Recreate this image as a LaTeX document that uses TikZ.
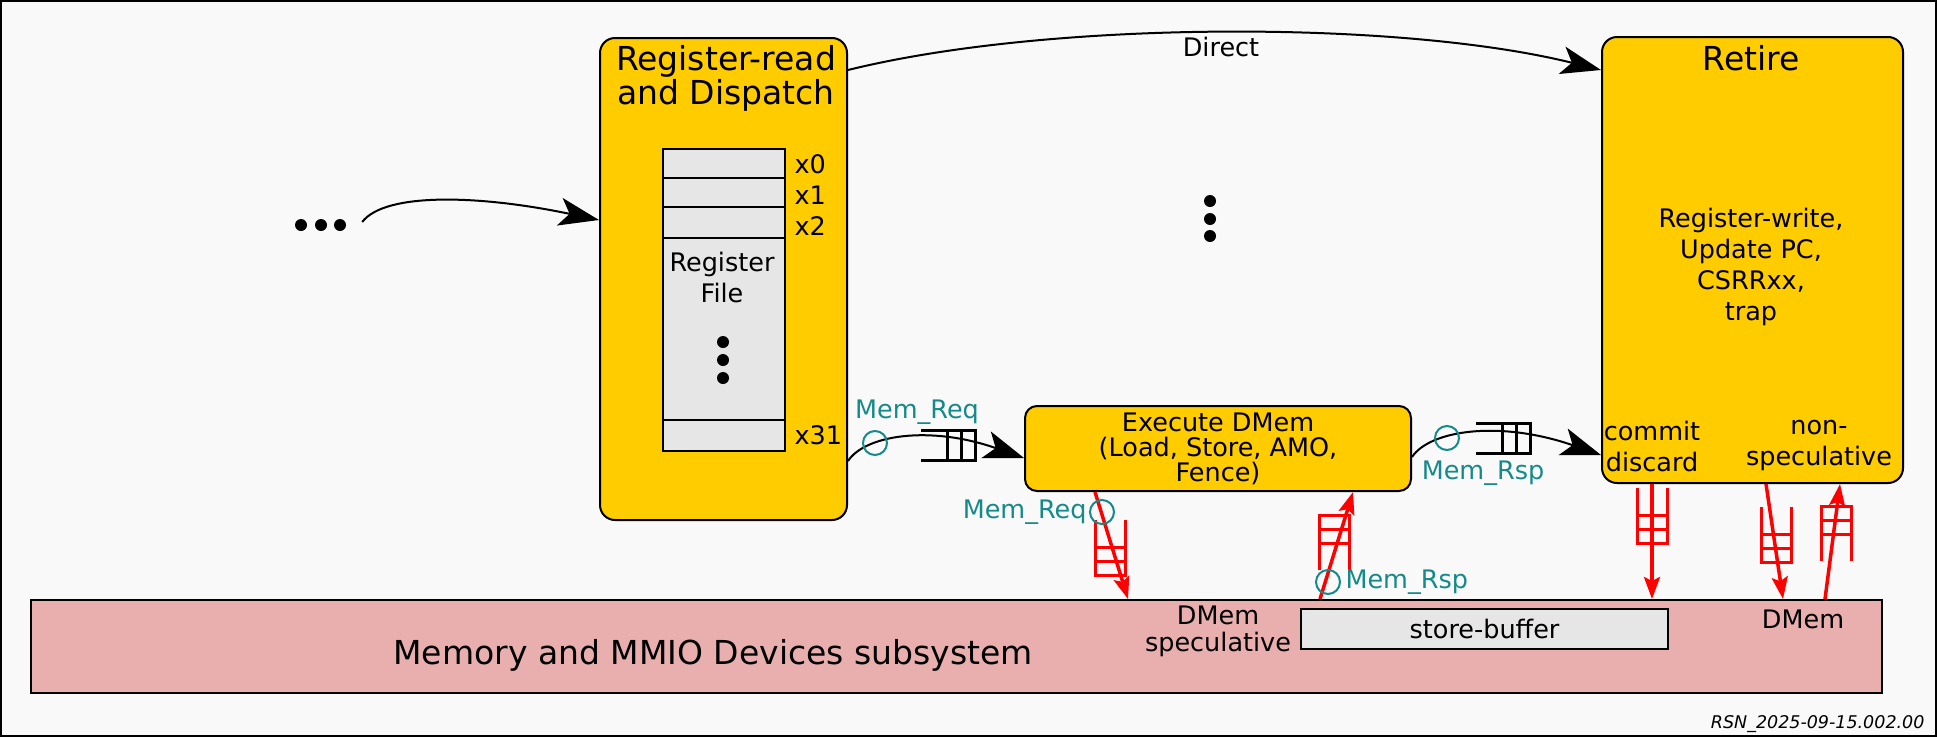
\documentclass[tikz,border=0pt]{standalone}
\usepackage{fontspec}
\setmainfont{DejaVu Sans}
\usetikzlibrary{arrows.meta}

\definecolor{stageyellow}{HTML}{FFCC00}
\definecolor{memrose}{HTML}{E9AFAF}
\definecolor{regfill}{HTML}{E6E6E6}
\definecolor{bgpaper}{HTML}{F9F9F9}
\definecolor{sigteal}{HTML}{168A8A}

\tikzset{
  stage/.style={draw, line width=2pt, fill=stageyellow, rounded corners=15pt, inner sep=0pt, anchor=north west},
  bigtext/.style={font=\fontsize{33}{34}\selectfont, align=center},
  smalltext/.style={font=\fontsize{25.5}{31}\selectfont, align=center},
  tealtext/.style={smalltext, text=sigteal},
  bigdot/.style={circle, fill=black, inner sep=0pt, minimum size=12pt},
  flow/.style={line width=2pt, -{Stealth[length=40pt,width=28pt,inset=10pt]}},
  redflow/.style={red, line width=3.5pt, -{Stealth[length=22pt,width=16pt,inset=4pt]}},
  probe/.style={circle, draw=sigteal, line width=2pt, minimum size=24pt, inner sep=0pt},
  hfifo/.pic={
    \draw[line width=3pt] (-54,-15) -- (0,-15) -- (0,15) -- (-54,15);
    \draw[line width=3pt] (-14,-15) -- (-14,15) (-28,-15) -- (-28,15);
  },
  vfifo/.pic={
    \draw[red, line width=3pt] (-15,-55) -- (-15,0) -- (15,0) -- (15,-55);
    \draw[red, line width=3pt] (-15,-14) -- (15,-14) (-15,-28) -- (15,-28);
  },
}

\begin{document}
\begin{tikzpicture}[x=1pt,y=-1pt]
\useasboundingbox (0,0) rectangle (1937,737);
\draw[line width=2pt, fill=bgpaper] (1,1) rectangle (1936,736);

% stages
\node[stage, minimum width=247pt, minimum height=482pt] (rr) at (599,37) {};
\node[bigtext] (rrtitle) at (726,78) {Register-read\\and Dispatch};
\node[draw, line width=1.5pt, fill=regfill, anchor=north west, minimum width=122pt, minimum height=302pt, inner sep=0pt] (regfile) at (662,148) {};
\foreach \yrow in {178,207,238,420}
  \draw[line width=1.5pt] (regfile.west |- 0,\yrow) -- (regfile.east |- 0,\yrow);
\node[smalltext, anchor=west] (rx0) at (791,164) {x0};
\node[smalltext, anchor=west] (rx1) at (791,195) {x1};
\node[smalltext, anchor=west] (rx2) at (791,226) {x2};
\node[smalltext, anchor=west] (rx31) at (791,435) {x31};
\node[smalltext] (rftext) at (722,277) {Register\\File};
\foreach \ydot [count=\i] in {342,360,378}
  \node[bigdot] (rfdot\i) at (723,\ydot) {};

\node[stage, minimum width=301pt, minimum height=446pt] (retire) at (1601,36) {};
\node[bigtext] (retiretitle) at (1751,58) {Retire};
\node[smalltext] (retiretext) at (1751,267) {Register-write,\\Update PC,\\CSRRxx,\\trap};
\node[smalltext] (commit) at (1652,446) {commit\\discard};
\node[smalltext] (nonspec) at (1819,446) {non-\\speculative};

\node[stage, rounded corners=12pt, minimum width=386pt, minimum height=85pt, smalltext, font=\fontsize{25.5}{25}\selectfont] (exe) at (1024,405) {Execute DMem\\(Load, Store, AMO,\\Fence)};

% memory
\node[draw, line width=2pt, fill=memrose, anchor=north west, minimum width=1851pt, minimum height=93pt, inner sep=0pt] (mem) at (30,599) {};
\node[bigtext] (memtext) at (713,655) {Memory and MMIO Devices subsystem};
\node[draw, line width=2pt, fill=regfill, anchor=north west, minimum width=367pt, minimum height=40pt, inner sep=0pt, smalltext] (sbuf) at (1300,608) {store-buffer};
\node[smalltext, font=\fontsize{25.5}{27}\selectfont] (dmemspec) at (1218,631) {DMem\\speculative};
\node[smalltext] (dmemnon) at (1803,619) {DMem};

% dots
\foreach \xdot [count=\i] in {301,321,340}
  \node[bigdot] (dotsl\i) at (\xdot,225) {};
\foreach \ydot [count=\i] in {201,219,236}
  \node[bigdot] (dotsm\i) at (1210,\ydot) {};

% black flows
\draw[flow] ([xshift=16pt,yshift=3pt]dotsl3.east) .. controls (385,192) and (480,195) .. (rr.west |- 0,220);
\draw[flow] (rr.east |- 0,70) .. controls (1050,20) and (1400,20) .. (retire.west |- 0,70);
\node[smalltext] (direct) at (1221,47) {Direct};

\pic at (975,445) {hfifo};
\draw[flow] (rr.east |- 0,461) .. controls (865,435) and (930,425) .. (exe.west |- 0,458);
\node[probe] (reqprobe) at (875,443) {};
\node[tealtext] (reqlabel) at (917,412) {Mem\_Req};

\pic at (1530,438) {hfifo};
\draw[flow] (exe.east |- 0,457) .. controls (1430,430) and (1500,420) .. (retire.west |- 0,455);
\node[probe] (rspprobe) at (1447,438) {};
\node[tealtext] (rsplabel) at (1483,473) {Mem\_Rsp};

% red flows
\pic at (1110,575) {vfifo};
\draw[redflow] (exe.south -| 1095,0) -- (mem.north -| 1128,0);
\node[probe] (reqprobe2) at (1102,512) {};
\node[tealtext, anchor=east] (reqlabel2) at (1090,512) {Mem\_Req};

\pic[rotate=180] at (1334,515) {vfifo};
\draw[redflow] (mem.north -| 1320,0) -- (exe.south -| 1353,0);
\node[probe] (rspprobe2) at (1328,582) {};
\node[tealtext, anchor=west] (rsplabel2) at (1342,582) {Mem\_Rsp};

\pic at (1652,543) {vfifo};
\draw[redflow] (retire.south -| 1652,0) -- (mem.north -| 1652,0);
\pic at (1776,562) {vfifo};
\draw[redflow] (retire.south -| 1766,0) -- (mem.north -| 1783,0);
\pic[rotate=180] at (1836,506) {vfifo};
\draw[redflow] (mem.north -| 1825,0) -- (retire.south -| 1840,0);

\node[anchor=east, font=\fontsize{17.5}{19}\selectfont\itshape] (stamp) at (1928,724) {RSN\_2025-09-15.002.00};
\end{tikzpicture}
\end{document}
